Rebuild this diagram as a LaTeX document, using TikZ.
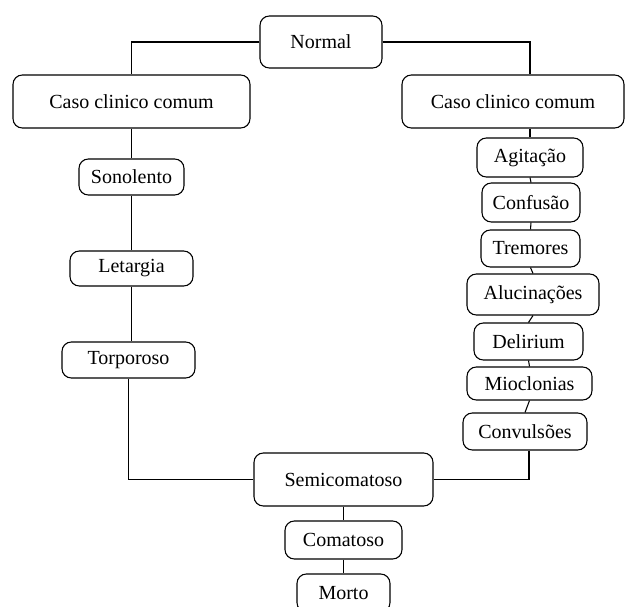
\documentclass[tikz,border=0pt]{standalone}
\usepackage{fontspec}
\setmainfont{Liberation Serif}
\usepackage{tikz}
\usetikzlibrary{positioning}

\begin{document}
\begin{tikzpicture}[x=0.75pt, y=-0.75pt, line width=0.8pt, font=\fontsize{15}{18}\selectfont,
        stage/.style 2 args={draw, rounded corners=7pt, inner sep=0pt, minimum width=#1*0.75pt, minimum height=#2*0.75pt}]
        \useasboundingbox (0,0) rectangle (625,607);

        \node[stage={122}{52}] (normal) at (321,42) {Normal};
        \node[stage={237}{53}] (casoL) at (131.5,101.5) {Caso clinico comum};
        \node[stage={222}{53}] (casoR) at (513,101.5) {Caso clinico comum};

        \node[stage={105}{36}] (sonolento) at (131.5,177) {Sonolento};
        \node[stage={123}{35}] (letargia) at (131.5,268.5) {Letargia};
        \node[stage={133}{36}] (torporoso) at (128.5,360) {Torporoso};

        \node[stage={106}{39}] (agitacao) at (530,157.5) {Agitação};
        \node[stage={98}{39}] (confusao) at (531,202.5) {Confusão};
        \node[stage={99}{37}] (tremores) at (530.5,248.5) {Tremores};
        \node[stage={132}{41}] (alucinacoes) at (533,294.5) {Alucinações};
        \node[stage={109}{37}] (delirium) at (528.5,341.5) {Delirium};
        \node[stage={125}{33}] (mioclonias) at (529.5,383.5) {Mioclonias};
        \node[stage={124}{37}] (convulsoes) at (525,431.5) {Convulsões};

        \node[stage={179}{53}] (semicomatoso) at (343.5,479.5) {Semicomatoso};
        \node[stage={117}{38}] (comatoso) at (343.5,540) {Comatoso};
        \node[stage={93}{38}] (morto) at (343.5,593) {Morto};

        \draw (normal.west) -| (casoL.north);
        \draw (normal.east) -| (casoR.north -| agitacao);
        \draw (casoL.south) -- (sonolento.north);
        \draw (sonolento.south) -- (letargia.north);
        \draw (letargia.south) -- (letargia.south |- torporoso.north);
        \draw (torporoso.south) |- (semicomatoso.west);

        \draw (casoR.south -| agitacao) -- (agitacao.north);
        \draw (agitacao.south) -- (confusao.north);
        \draw (confusao.south) -- (tremores.north);
        \draw (tremores.south) -- (alucinacoes.north);
        \draw (alucinacoes.south) -- (delirium.north);
        \draw (delirium.south) -- (mioclonias.north);
        \draw (mioclonias.south) -- (convulsoes.north);
        \draw ([xshift=3pt]convulsoes.south) |- (semicomatoso.east);

        \draw (semicomatoso.south) -- (comatoso.north);
        \draw (comatoso.south) -- (morto.north);
    \end{tikzpicture}
\end{document}
